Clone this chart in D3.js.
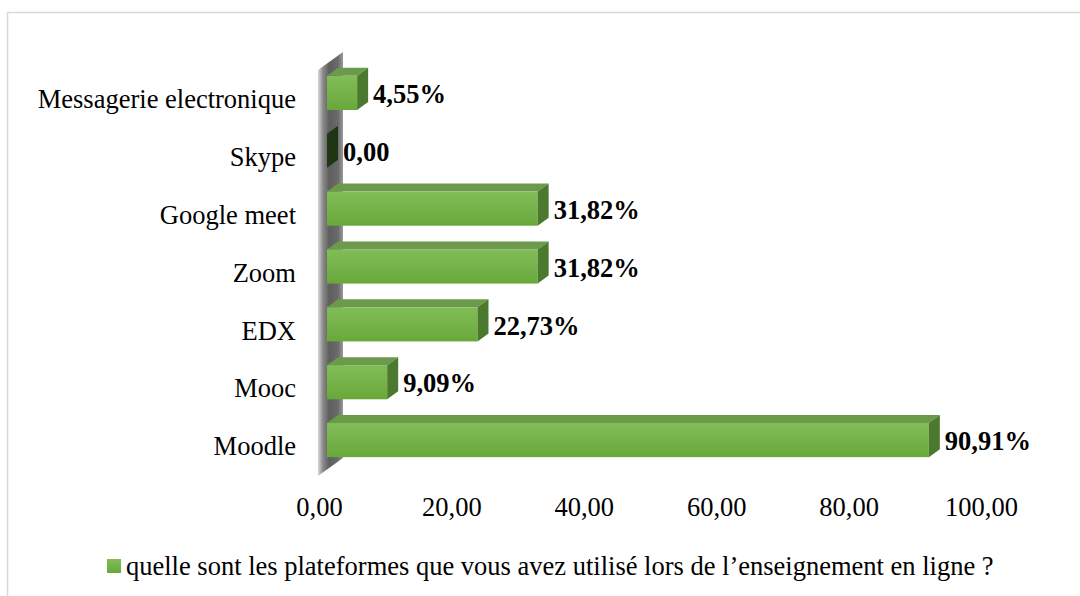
<!DOCTYPE html>
<html><head><meta charset="utf-8">
<script src="https://cdn.jsdelivr.net/npm/d3@7"></script>
<style>html,body{margin:0;padding:0;background:#fff;}svg{display:block;}
svg text{font-family:'Liberation Serif','Times New Roman',Tinos,'Nimbus Roman','DejaVu Serif',serif;}</style>
</head><body>
<script>
const categories = ["Moodle","Mooc","EDX","Zoom","Google meet","Skype","Messagerie electronique"];
const values = [90.91, 9.09, 22.73, 31.82, 31.82, 0.00, 4.55];
const valueLabels = ["90,91%","9,09%","22,73%","31,82%","31,82%","0,00","4,55%"];
const tickValues = [0,20,40,60,80,100];
const legendLabel = "quelle sont les plateformes que vous avez utilisé lors de l\u2019enseignement en ligne ?";

const W=1080,H=596, FS=26.5;
const svg=d3.select("body").append("svg").attr("width",W).attr("height",H);
const defs=svg.append("defs");
const gFront=defs.append("linearGradient").attr("id","front").attr("x1",0).attr("y1",0).attr("x2",0).attr("y2",1);
gFront.append("stop").attr("offset","0%").attr("stop-color","#82bd58");
gFront.append("stop").attr("offset","100%").attr("stop-color","#68a83a");
const gWall=defs.append("linearGradient").attr("id","wall").attr("x1",0).attr("y1",0).attr("x2",1).attr("y2",0);
gWall.append("stop").attr("offset","0%").attr("stop-color","#d8d8d8");
gWall.append("stop").attr("offset","20%").attr("stop-color","#8a8a8a");
gWall.append("stop").attr("offset","45%").attr("stop-color","#5e5e5e");
gWall.append("stop").attr("offset","80%").attr("stop-color","#6a6a6a");
gWall.append("stop").attr("offset","100%").attr("stop-color","#9a9a9a");

// frame
svg.append("path").attr("d","M7.5,600 V12.5 H1090").attr("fill","none").attr("stroke","#d9d9d9").attr("stroke-width",1.5);

const x=d3.scaleLinear().domain([0,100]).range([319,981]);
const y=d3.scalePoint().domain(categories).range([469,64]).padding(0.5);
const step=y.step();
const bh=step*0.59;
const dx=11, dy=8, fo=8; // 3D projection offsets

// wall
const x0=x(0);
svg.append("polygon")
  .attr("points",[[x0-1,476],[x0-1,70],[x0+24,52],[x0+24,458]].map(p=>p.join(",")).join(" "))
  .attr("fill","url(#wall)");

const g=svg.append("g");
categories.forEach((c,i)=>{
  const v=values[i];
  const xl=x(0)+fo, xr=x(v)+fo;
  const yt=y(c)-bh/2, yb=y(c)+bh/2;
  if(v>0){
    g.append("polygon").attr("points",[[xl,yt],[xl+dx,yt-dy],[xr+dx,yt-dy],[xr,yt]].map(p=>p.join(",")).join(" "))
      .attr("fill","#6b9a4b");
    g.append("rect").attr("x",xl).attr("y",yt).attr("width",xr-xl).attr("height",bh).attr("fill","url(#front)");
    g.append("polygon").attr("points",[[xr,yt],[xr+dx,yt-dy],[xr+dx,yb-dy],[xr,yb]].map(p=>p.join(",")).join(" "))
      .attr("fill","#4b7a2e");
  } else {
    g.append("polygon").attr("points",[[xr,yt],[xr+dx,yt-dy],[xr+dx,yb-dy],[xr,yb]].map(p=>p.join(",")).join(" "))
      .attr("fill","#1e3614");
  }
  svg.append("text").attr("x",xr+dx+5).attr("y",y(c)+1).attr("dy","0.35em")
    .attr("font-size",FS).attr("font-weight","bold")
    .attr("fill","#000").text(valueLabels[i]);
  svg.append("text").attr("x",296).attr("y",y(c)+6).attr("dy","0.35em").attr("text-anchor","end")
    .attr("font-size",FS)
    .attr("fill","#000").text(c);
});

// x axis
const ax=svg.append("g").attr("transform","translate(0,500)")
  .call(d3.axisBottom(x).tickValues(tickValues).tickSize(0).tickFormat(d=>d3.format(".2f")(d).replace(".",",")));
ax.select(".domain").remove();
ax.attr("font-family",null);
ax.selectAll("text").attr("font-size",FS).attr("fill","#000").attr("dy","0.35em").attr("y",7);

// legend
svg.append("rect").attr("x",107).attr("y",559).attr("width",14).attr("height",14).attr("fill","url(#front)");
svg.append("text").attr("x",126).attr("y",566).attr("dy","0.35em")
  .attr("font-size",FS).attr("fill","#000").text(legendLabel);
</script>
</body></html>
